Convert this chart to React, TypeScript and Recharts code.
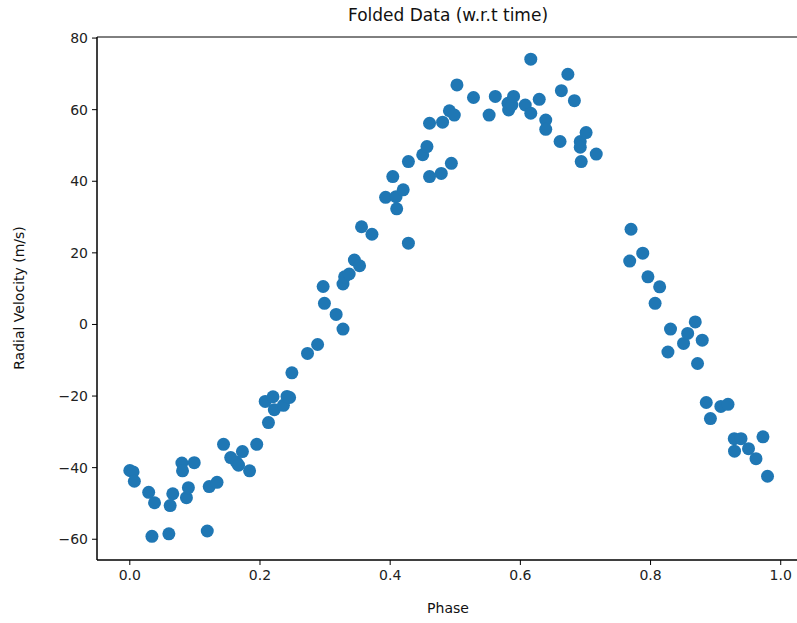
import { ScatterChart, Scatter, XAxis, YAxis, ReferenceArea } from "recharts"

// folded radial velocity data
const phases = [
  0.0, 0.005, 0.007, 0.029, 0.034, 0.038, 0.06, 0.062, 0.066, 0.08, 0.081, 0.087, 0.09, 0.099, 0.119, 0.122,
  0.134, 0.144, 0.155, 0.164, 0.167, 0.173, 0.184, 0.195, 0.208, 0.213, 0.22, 0.222, 0.236, 0.2415, 0.2455,
  0.249, 0.273, 0.2885, 0.297, 0.299, 0.317, 0.3275, 0.3275, 0.33, 0.337, 0.345, 0.353, 0.356, 0.372, 0.393,
  0.409, 0.41, 0.42, 0.404, 0.428, 0.428, 0.45, 0.4565, 0.4605, 0.4605, 0.4785, 0.4805, 0.491, 0.494, 0.4985,
  0.5026, 0.528, 0.552, 0.5615, 0.581, 0.582, 0.587, 0.5896, 0.6075, 0.616, 0.616, 0.629, 0.639, 0.639, 0.661,
  0.663, 0.673, 0.683, 0.692, 0.692, 0.6935, 0.701, 0.7166, 0.768, 0.77, 0.788, 0.796, 0.807, 0.814, 0.8267,
  0.8307, 0.8507, 0.857, 0.8687, 0.8722, 0.8794, 0.8856, 0.892, 0.908, 0.919, 0.9286, 0.929, 0.939, 0.9505,
  0.962, 0.9727, 0.9797,
]

const velocities = [
  -40.8, -41.2, -43.8, -46.9, -59.2, -49.8, -58.5, -50.6, -47.3, -38.7, -40.9, -48.4, -45.6, -38.6, -57.7, -45.3,
  -44.1, -33.5, -37.2, -38.5, -39.3, -35.5, -40.9, -33.5, -21.5, -27.4, -20.2, -23.8, -22.6, -20.1, -20.4,
  -13.5, -8.1, -5.6, 10.6, 5.9, 2.8, -1.3, 11.3, 13.3, 14.1, 18.0, 16.4, 27.3, 25.2, 35.5,
  35.7, 32.3, 37.6, 41.3, 22.7, 45.5, 47.4, 49.7, 56.2, 41.3, 42.2, 56.5, 59.7, 45.0, 58.5,
  66.9, 63.4, 58.5, 63.7, 61.8, 59.9, 61.3, 63.7, 61.3, 59.0, 74.1, 62.9, 57.1, 54.5, 51.1,
  65.3, 69.9, 62.5, 51.1, 49.5, 45.5, 53.6, 47.6, 17.7, 26.6, 19.9, 13.3, 5.9, 10.5, -7.7,
  -1.3, -5.3, -2.5, 0.7, -10.9, -4.4, -21.8, -26.3, -22.9, -22.3, -31.9, -35.4, -31.9, -34.7,
  -37.5, -31.4, -42.4,
]

const xTicks = [0, 0.2, 0.4, 0.6, 0.8, 1.0]
const yTicks = [-60, -40, -20, 0, 20, 40, 60, 80]

const points = phases.map((p, i) => ({ phase: p, rv: velocities[i] }))

const X_DOMAIN: [number, number] = [-0.0504, 1.0296]
const Y_DOMAIN: [number, number] = [-65.8, 80.3]

const font = "'DejaVu Sans', sans-serif"
const tickStyle = { fontFamily: font, fontSize: 14, fill: "#222" }

function Dot(props: any) {
  const { cx, cy } = props
  if (cx == null || cy == null) return null
  return <circle cx={cx} cy={cy} r={6.5} fill="#1f77b4" />
}

export default function App() {
  return (
    <div
      style={{
        position: "absolute",
        left: 0,
        top: 0,
        width: 797,
        height: 623,
        overflow: "hidden",
        background: "#fff",
        fontFamily: font,
      }}
    >
      <div
        style={{
          position: "absolute",
          left: 96,
          width: 704,
          top: 5,
          textAlign: "center",
          fontSize: 17,
          color: "#111",
        }}
      >
        Folded Data (w.r.t time)
      </div>
      <div
        style={{
          position: "absolute",
          left: 96,
          width: 704,
          top: 600,
          textAlign: "center",
          fontSize: 14,
          color: "#111",
        }}
      >
        Phase
      </div>
      <div
        style={{
          position: "absolute",
          left: 19,
          top: 298,
          transform: "translate(-50%, -50%) rotate(-90deg)",
          whiteSpace: "nowrap",
          fontSize: 14,
          color: "#111",
        }}
      >
        Radial Velocity (m/s)
      </div>
      <ScatterChart width={805} height={623} margin={{ top: 37, right: 5, bottom: 23, left: 0 }}>
        <XAxis
          type="number"
          dataKey="phase"
          domain={X_DOMAIN}
          ticks={xTicks}
          allowDataOverflow
          tickFormatter={(v: number) => v.toFixed(1)}
          tick={tickStyle}
          tickSize={5}
          tickMargin={5}
          height={40}
          stroke="#000"
          interval={0}
        />
        <YAxis
          type="number"
          dataKey="rv"
          domain={Y_DOMAIN}
          ticks={yTicks}
          allowDataOverflow
          tickFormatter={(v: number) => (v < 0 ? "\u2212" + Math.abs(v) : String(v))}
          tick={tickStyle}
          tickSize={5}
          tickMargin={4}
          width={97}
          stroke="#000"
          interval={0}
        />
        <ReferenceArea
          x1={X_DOMAIN[0]}
          x2={X_DOMAIN[1]}
          y1={Y_DOMAIN[0]}
          y2={Y_DOMAIN[1]}
          fill="none"
          stroke="#000"
          strokeWidth={1}
          ifOverflow="visible"
        />
        <Scatter data={points} shape={Dot} isAnimationActive={false} />
      </ScatterChart>
    </div>
  )
}
